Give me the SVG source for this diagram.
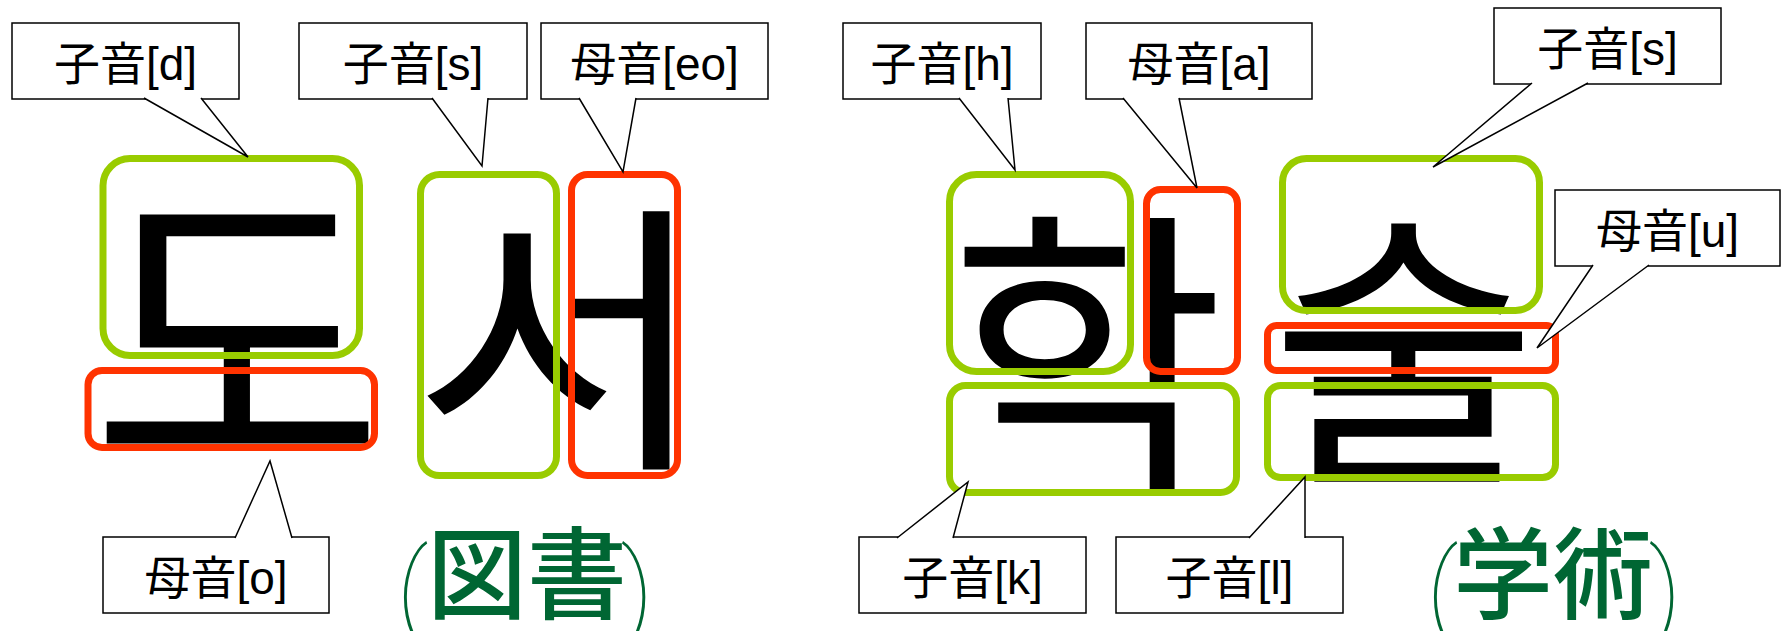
<svg xmlns="http://www.w3.org/2000/svg" width="1784" height="631" viewBox="0 0 1784 631">
<style>
.cb{fill:#fff;stroke:#000;stroke-width:1.5}
.tail{fill:#fff;stroke:#000;stroke-width:1.5}
.lbl{font-family:"Liberation Sans","Noto Sans CJK JP",sans-serif;font-size:46px;text-anchor:middle;fill:#000}
.ko{font-family:"Noto Sans CJK KR",sans-serif;text-anchor:middle;fill:#000}
.g{fill:none;stroke:#99CC00;stroke-width:7}
.r{fill:none;stroke:#FF3300;stroke-width:7}
.jp{font-family:"Noto Sans CJK JP",sans-serif;font-size:100px;font-weight:500;fill:#006633}
.par{font-family:Roboto,Inter,"Noto Sans",sans-serif;font-weight:100;font-size:110px;fill:#006633}
</style>
<rect width="1784" height="631" fill="#fff"/>
<g id="syllables">
<text id="syl-do" class="ko" x="237.5" y="455" font-size="319">도</text>
<text id="syl-seo" class="ko" x="0" y="0" font-size="285" transform="translate(561,447) scale(1.14,1)">서</text>
<text id="syl-hak" class="ko" x="1087" y="466" font-size="300">학</text>
<text id="syl-sul" class="ko" x="1404" y="462" font-size="290">술</text>
</g>
<g id="jamo-boxes">
<rect id="box-d" class="g" x="103" y="158.5" width="256.5" height="197" rx="27"/>
<rect id="box-o" class="r" x="88" y="370.5" width="286.5" height="77" rx="14"/>
<rect id="box-s1" class="g" x="420.5" y="174.5" width="136" height="301" rx="19"/>
<rect id="box-eo" class="r" x="571.5" y="174.5" width="106" height="301" rx="16"/>
<rect id="box-h" class="g" x="949.5" y="174.5" width="181" height="197" rx="27"/>
<rect id="box-a" class="r" x="1146.5" y="189.5" width="91" height="182" rx="14"/>
<rect id="box-k" class="g" x="949.5" y="385.5" width="287" height="107" rx="16"/>
<rect id="box-s2" class="g" x="1282.5" y="158.5" width="257" height="152" rx="24"/>
<rect id="box-u" class="r" x="1267.5" y="325.5" width="288" height="45" rx="9"/>
<rect id="box-l" class="g" x="1267.5" y="385.5" width="288" height="92" rx="13"/>
</g>
<g id="callouts">
<g id="c-d"><rect class="cb" x="12" y="23" width="227" height="76"/><text class="lbl" x="125.5" y="80">子音[d]</text></g>
<g id="c-s1"><rect class="cb" x="299" y="23" width="228" height="76"/><text class="lbl" x="413" y="80">子音[s]</text></g>
<g id="c-eo"><rect class="cb" x="541" y="23" width="227" height="76"/><text class="lbl" x="654.5" y="80">母音[eo]</text></g>
<g id="c-h"><rect class="cb" x="843" y="23" width="198" height="76"/><text class="lbl" x="942" y="80">子音[h]</text></g>
<g id="c-a"><rect class="cb" x="1086" y="23" width="226" height="76"/><text class="lbl" x="1199" y="80">母音[a]</text></g>
<g id="c-s2"><rect class="cb" x="1494" y="8" width="227" height="76"/><text class="lbl" x="1607.5" y="65">子音[s]</text></g>
<g id="c-u"><rect class="cb" x="1555" y="190" width="225" height="76"/><text class="lbl" x="1667.5" y="247">母音[u]</text></g>
<g id="c-o"><rect class="cb" x="103" y="537" width="226" height="76"/><text class="lbl" x="216" y="594">母音[o]</text></g>
<g id="c-k"><rect class="cb" x="859" y="537" width="227" height="76"/><text class="lbl" x="972.5" y="594">子音[k]</text></g>
<g id="c-l"><rect class="cb" x="1116" y="537" width="227" height="76"/><text class="lbl" x="1229.5" y="594">子音[l]</text></g>
</g>
<g id="connectors">
<path class="tail" d="M144,98 L248,157 L201,98"/>
<path class="tail" d="M432,98 L482,166 L488,98"/>
<path class="tail" d="M579,98 L623,172 L636,98"/>
<path class="tail" d="M959,98 L1015,170 L1008,98"/>
<path class="tail" d="M1123,98 L1197,188 L1179,98"/>
<path class="tail" d="M1532,83 L1433,167 L1588,83"/>
<path class="tail" d="M1593,265 L1537,348 L1649,265"/>
<path class="tail" d="M235,538 L270,461 L292,538"/>
<path class="tail" d="M897,538 L968,482 L953,538"/>
<path class="tail" d="M1249,538 L1305,477 L1305,538"/>
</g>
<g id="translation-1">
<text class="par" x="396" y="628">(</text>
<text class="jp" x="427" y="611">図書</text>
<text class="par" x="654" y="628" text-anchor="end">)</text>
</g>
<g id="translation-2">
<text class="par" x="1426" y="628">(</text>
<text class="jp" x="1453" y="611">学術</text>
<text class="par" x="1682" y="628" text-anchor="end">)</text>
</g>
</svg>
